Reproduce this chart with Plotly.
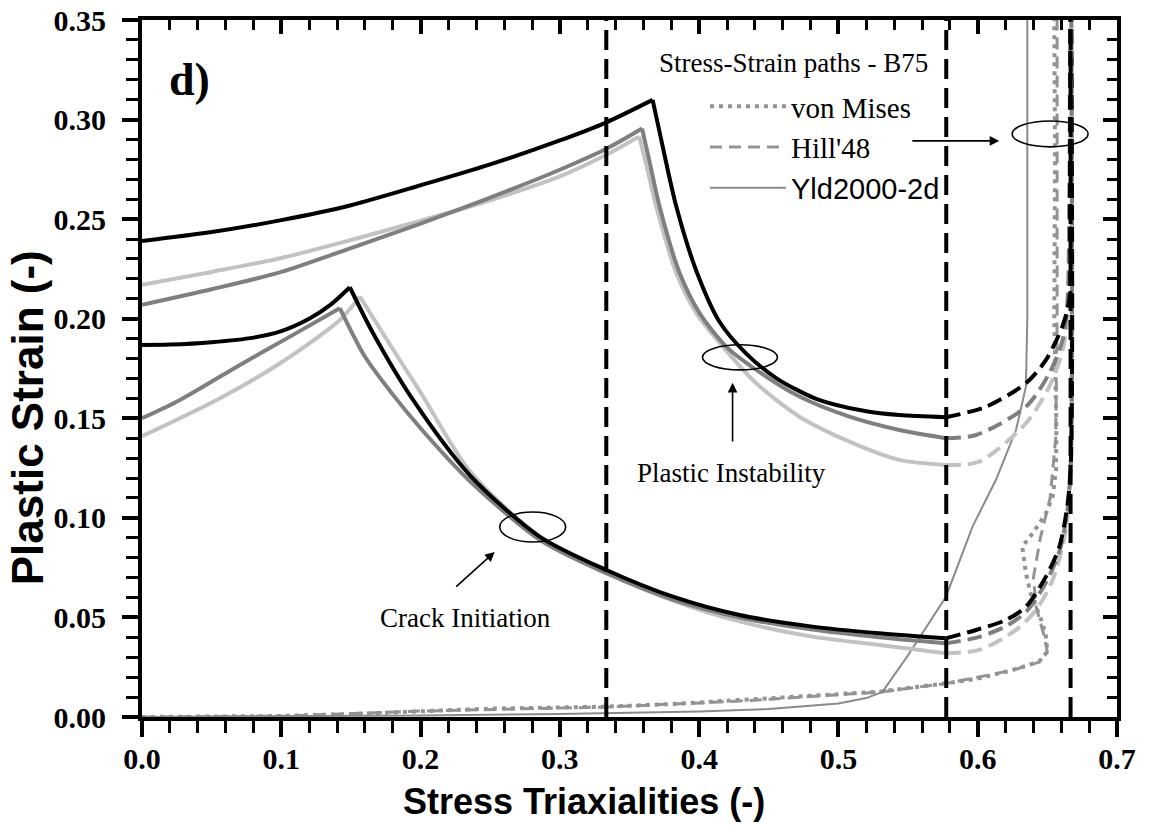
import plotly.graph_objects as go

# ---------------- data ----------------
# Upper family (plastic instability) - black / dark gray / light gray
ub_rise_x = [0, 0.05, 0.1, 0.15, 0.2, 0.25, 0.3, 0.333, 0.3666]
ub_rise_y = [0.239, 0.2435, 0.2495, 0.2570, 0.2670, 0.2775, 0.2895, 0.2985, 0.3099]
ub_fall_x = [0.3666, 0.3728, 0.3836, 0.398, 0.4146, 0.4338, 0.4553, 0.484, 0.52, 0.5438, 0.577]
ub_fall_y = [0.3099, 0.2898, 0.2563, 0.2240, 0.1985, 0.1825, 0.1702, 0.1598, 0.1535, 0.1516, 0.1505]
ub_dash_x = [0.577, 0.606, 0.6346, 0.649, 0.6607, 0.6657, 0.6662, 0.6665]
ub_dash_y = [0.1505, 0.1558, 0.1676, 0.1793, 0.196, 0.2094, 0.26, 0.35]

ud_rise_x = [0, 0.05, 0.1, 0.15, 0.2, 0.25, 0.3, 0.333, 0.359]
ud_rise_y = [0.207, 0.2148, 0.2235, 0.2355, 0.2478, 0.2608, 0.2748, 0.2852, 0.2955]
ud_fall_x = [0.359, 0.3645, 0.3716, 0.386, 0.4003, 0.4194, 0.441, 0.472, 0.5079, 0.5438, 0.577]
ud_fall_y = [0.2955, 0.2785, 0.2563, 0.2229, 0.2028, 0.186, 0.1743, 0.1609, 0.1508, 0.1441, 0.140]
ud_dash_x = [0.577, 0.5988, 0.6346, 0.6514, 0.661, 0.6645, 0.6658, 0.6663]
ud_dash_y = [0.140, 0.1416, 0.1558, 0.1726, 0.1894, 0.2094, 0.26, 0.35]

ul_rise_x = [0, 0.05, 0.1, 0.15, 0.2, 0.25, 0.3, 0.333, 0.357]
ul_rise_y = [0.217, 0.2235, 0.2305, 0.2395, 0.2492, 0.2595, 0.2715, 0.2822, 0.2915]
ul_fall_x = [0.357, 0.3625, 0.3692, 0.3836, 0.398, 0.417, 0.441, 0.472, 0.5079, 0.5438, 0.577]
ul_fall_y = [0.2915, 0.2760, 0.2563, 0.2229, 0.2028, 0.186, 0.1676, 0.1508, 0.1383, 0.1291, 0.1266]
ul_dash_x = [0.577, 0.601, 0.6346, 0.6514, 0.661, 0.6657, 0.6662, 0.6667]
ul_dash_y = [0.1266, 0.1282, 0.1475, 0.1659, 0.1843, 0.2094, 0.26, 0.35]

# Lower family (crack initiation)
lb_rise_x = [0, 0.02, 0.05, 0.08, 0.1, 0.12, 0.135, 0.1492]
lb_rise_y = [0.1868, 0.1870, 0.1882, 0.1905, 0.1938, 0.2000, 0.2068, 0.2158]
lb_fall_x = [0.1492, 0.1659, 0.1946, 0.2353, 0.2855, 0.3334, 0.3812, 0.429, 0.48, 0.5294, 0.577]
lb_fall_y = [0.2158, 0.1927, 0.1592, 0.1215, 0.0906, 0.0738, 0.0604, 0.0512, 0.0455, 0.0420, 0.0395]
lb_dash_x = [0.577, 0.5988, 0.6202, 0.6346, 0.649, 0.6586, 0.6646, 0.667, 0.6672]
lb_dash_y = [0.0395, 0.0437, 0.0487, 0.0554, 0.0705, 0.0855, 0.1073, 0.1307, 0.35]

ld_rise_x = [0, 0.0273, 0.0703, 0.105, 0.142]
ld_rise_y = [0.150, 0.1592, 0.1768, 0.1905, 0.2053]
ld_fall_x = [0.142, 0.160, 0.180, 0.200, 0.2353, 0.2855, 0.3334, 0.3812, 0.429, 0.48, 0.5294, 0.577]
ld_fall_y = [0.2053, 0.1810, 0.1620, 0.1450, 0.1185, 0.0890, 0.0722, 0.0590, 0.0500, 0.0440, 0.0400, 0.0370]
ld_dash_x = [0.577, 0.600, 0.620, 0.635, 0.649, 0.659, 0.6646, 0.667, 0.6672]
ld_dash_y = [0.0370, 0.0400, 0.0455, 0.0530, 0.0675, 0.0840, 0.1050, 0.1300, 0.35]

ll_rise_x = [0, 0.0536, 0.1, 0.142, 0.1564]
ll_rise_y = [0.141, 0.1592, 0.178, 0.1994, 0.2111]
ll_fall_x = [0.1564, 0.1805, 0.200, 0.2353, 0.2855, 0.3334, 0.3812, 0.429, 0.48, 0.5294, 0.577]
ll_fall_y = [0.2111, 0.1843, 0.1630, 0.1235, 0.0905, 0.0725, 0.0585, 0.0480, 0.0405, 0.0362, 0.0320]
ll_dash_x = [0.577, 0.601, 0.6275, 0.6418, 0.6538, 0.6633, 0.6657, 0.667, 0.6672]
ll_dash_y = [0.0320, 0.0337, 0.0437, 0.0537, 0.0688, 0.0939, 0.114, 0.140, 0.35]

# Stress-strain paths
vm_x = [0, 0.1, 0.15, 0.2138, 0.25, 0.3334, 0.38, 0.429, 0.48, 0.5294, 0.5772, 0.601, 0.625, 0.644,
        0.650, 0.649, 0.6466, 0.643, 0.638, 0.6346, 0.632, 0.6395, 0.649, 0.6538, 0.6562, 0.6565,
        0.655, 0.6555, 0.655]
vm_y = [0, 0.0005, 0.0015, 0.0035, 0.0042, 0.0052, 0.0065, 0.0085, 0.0105, 0.0127, 0.0169, 0.0194,
        0.0236, 0.0278, 0.0328, 0.0403, 0.047, 0.0529, 0.062, 0.0722, 0.0855, 0.0923, 0.1023, 0.1106,
        0.124, 0.144, 0.2, 0.28, 0.35]
hill_x = [0, 0.1, 0.2, 0.3334, 0.429, 0.5294, 0.5772, 0.625, 0.644, 0.650, 0.648, 0.645, 0.642,
          0.640, 0.645, 0.652, 0.656, 0.657, 0.657]
hill_y = [0, 0.0004, 0.0030, 0.0050, 0.0080, 0.0125, 0.0168, 0.0235, 0.0275, 0.0325, 0.040, 0.048,
          0.055, 0.070, 0.090, 0.110, 0.140, 0.200, 0.35]
yld_x = [0, 0.1, 0.2, 0.3, 0.4, 0.45, 0.5, 0.52, 0.5316, 0.54, 0.55, 0.5772, 0.5963, 0.613, 0.6275,
         0.6346, 0.6356, 0.6356]
yld_y = [0, 0.0003, 0.0008, 0.0015, 0.0028, 0.004, 0.0068, 0.0095, 0.0126, 0.021, 0.031, 0.0604,
         0.0956, 0.119, 0.1441, 0.1659, 0.20, 0.35]

# Reference triaxialities (vertical dashed lines)
ref_x = [1 / 3, 0.5774, 2 / 3]
y_range = [0, 0.35]
x_range = [0, 0.7]

legend_names = ["von Mises", "Hill'48", "<span style='font-family:Liberation Sans'>Yld2000-2d</span>"]

# ---------------- styles ----------------
BLACK = "#000000"
DARK = "#7f7f7f"
LIGHT = "#c2c2c2"
PATH = "#8a8a8a"
SERIF = "Liberation Serif"
SANS = "Liberation Sans"

fig = go.Figure()


def add_line(x, y, color, width, dash="solid", shape="spline", name=None, showlegend=False):
    fig.add_trace(go.Scatter(
        x=x, y=y, mode="lines", name=name, showlegend=showlegend, hoverinfo="skip",
        line=dict(color=color, width=width, dash=dash, shape=shape, smoothing=0.8),
    ))


# stress-strain paths (legend entries)
add_line(vm_x, vm_y, "#939393", 4, dash="4px,5px", shape="linear", name=legend_names[0], showlegend=True)
add_line(hill_x, hill_y, "#939393", 3, dash="12px,7px", shape="linear", name=legend_names[1], showlegend=True)
add_line(yld_x, yld_y, PATH, 2, shape="linear", name=legend_names[2], showlegend=True)

DASH = "15px,7px"
W = 4
for rx, ry, fx, fy, dx, dy, col in [
    (ll_rise_x, ll_rise_y, ll_fall_x, ll_fall_y, ll_dash_x, ll_dash_y, LIGHT),
    (ld_rise_x, ld_rise_y, ld_fall_x, ld_fall_y, ld_dash_x, ld_dash_y, DARK),
    (lb_rise_x, lb_rise_y, lb_fall_x, lb_fall_y, lb_dash_x, lb_dash_y, BLACK),
    (ul_rise_x, ul_rise_y, ul_fall_x, ul_fall_y, ul_dash_x, ul_dash_y, LIGHT),
    (ud_rise_x, ud_rise_y, ud_fall_x, ud_fall_y, ud_dash_x, ud_dash_y, DARK),
    (ub_rise_x, ub_rise_y, ub_fall_x, ub_fall_y, ub_dash_x, ub_dash_y, BLACK),
]:
    add_line(rx, ry, col, W)
    add_line(fx, fy, col, W)
    add_line(dx, dy, col, W, dash=DASH)

for xv in ref_x:
    add_line([xv, xv], y_range, BLACK, 4, dash="20px,9px", shape="linear")

# invisible trace that activates the mirror axes (top / right, inside ticks)
fig.add_trace(go.Scatter(x=x_range, y=y_range, mode="markers", marker=dict(opacity=0), xaxis="x2", yaxis="y2",
                         showlegend=False, hoverinfo="skip"))

tickfont = dict(family=SERIF, size=30, color="black", weight="bold")
common = dict(showgrid=False, zeroline=False, showline=True, linecolor="black", linewidth=4, automargin=False)

fig.update_layout(
    width=1155, height=834,
    margin=dict(l=142, r=38, t=20, b=117),
    paper_bgcolor="white", plot_bgcolor="white",
    showlegend=True,
    xaxis=dict(range=x_range, dtick=0.1, tick0=0, tickformat=".1f", ticks="outside", ticklen=16,
               tickwidth=3.5, tickcolor="black", tickfont=tickfont, ticklabelstandoff=-4,
               minor=dict(ticks="outside", ticklen=12, tickwidth=3, dtick=0.02, tick0=0, tickcolor="black", showgrid=False),
               **common),
    yaxis=dict(range=y_range, dtick=0.05, tick0=0, tickformat=".2f", ticks="outside", ticklen=16,
               tickwidth=3.5, tickcolor="black", tickfont=tickfont, ticklabelstandoff=10,
               minor=dict(ticks="outside", ticklen=12, tickwidth=3, dtick=0.01, tick0=0, tickcolor="black", showgrid=False),
               **common),
    xaxis2=dict(range=x_range, overlaying="x", side="top", anchor="y", dtick=0.1, tick0=0, ticks="inside", ticklen=14,
                tickwidth=3.5, tickcolor="black", showticklabels=False,
                minor=dict(ticks="inside", ticklen=10, tickwidth=3, dtick=0.02, tick0=0, tickcolor="black", showgrid=False),
                **common),
    yaxis2=dict(range=y_range, overlaying="y", side="right", anchor="x", dtick=0.05, tick0=0, ticks="inside", ticklen=14,
                tickwidth=3.5, tickcolor="black", showticklabels=False,
                minor=dict(ticks="inside", ticklen=10, tickwidth=3, dtick=0.01, tick0=0, tickcolor="black", showgrid=False),
                **common),
    legend=dict(x=0.5774, y=0.9125, xanchor="left", yanchor="top", bgcolor="rgba(0,0,0,0)",
                font=dict(family=SERIF, size=29, color="black"), itemwidth=76, tracegroupgap=0),
)

# ---------------- annotations ----------------
ann = []
ann.append(dict(text="Stress Triaxialities (-)", xref="paper", yref="paper", x=0.453, y=-0.121,
                xanchor="center", yanchor="middle", showarrow=False,
                font=dict(family=SANS, size=36, color="black", weight="bold")))
ann.append(dict(text="Plastic Strain (-)", xref="paper", yref="paper", x=-0.118, y=0.43,
                xanchor="center", yanchor="middle", showarrow=False, textangle=-90,
                font=dict(family=SANS, size=44, color="black", weight="bold")))
ann.append(dict(text="d)", xref="paper", yref="paper", x=0.049, y=0.914, xanchor="center", yanchor="middle",
                showarrow=False, font=dict(family=SERIF, size=46, color="black", weight="bold")))
ann.append(dict(text="Stress-Strain paths - B75", xref="paper", yref="paper", x=0.528, y=0.938,
                xanchor="left", yanchor="middle", showarrow=False,
                font=dict(family=SERIF, size=27, color="black")))
ann.append(dict(text="Plastic Instability", x=0.4229, y=0.1226, xref="x", yref="y", showarrow=False,
                font=dict(family=SERIF, size=27, color="black")))
ann.append(dict(text="Crack Initiation", x=0.2324, y=0.0497, xref="x", yref="y", showarrow=False,
                font=dict(family=SERIF, size=27, color="black")))
# arrows
for (tx, ty, hx, hy) in [(0.552, 0.2893, 0.6155, 0.2893), (0.424, 0.1376, 0.424, 0.1678),
                         (0.2245, 0.0648, 0.2532, 0.0829)]:
    ann.append(dict(text="", x=hx, y=hy, ax=tx, ay=ty, xref="x", yref="y", axref="x", ayref="y",
                    showarrow=True, arrowhead=2, arrowsize=1.2, arrowwidth=1.6, arrowcolor="black"))
fig.update_layout(annotations=ann)

# ellipses
for (cx, cy, w, h) in [(0.652, 0.2928, 0.0545, 0.013), (0.4293, 0.1806, 0.0538, 0.0126),
                       (0.2805, 0.0954, 0.0473, 0.0151)]:
    fig.add_shape(type="circle", xref="x", yref="y", x0=cx - w / 2, x1=cx + w / 2, y0=cy - h / 2, y1=cy + h / 2,
                  line=dict(color="black", width=1.6))

fig.write_html("out.html")
